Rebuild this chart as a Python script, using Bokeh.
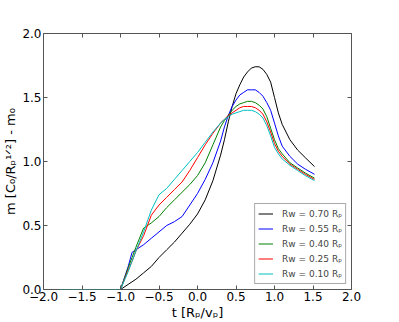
from bokeh.plotting import figure
from bokeh.models import LinearAxis, FixedTicker, Range1d, Legend, LegendItem, CustomJSTickFormatter
from bokeh.embed import file_html
from bokeh.resources import INLINE

t = [-1.8, -1.0, -0.9, -0.85, -0.8, -0.7, -0.6, -0.5, -0.4, -0.3, -0.2, -0.1, 0.0,
     0.1, 0.2, 0.3, 0.35, 0.4, 0.45, 0.5, 0.55, 0.6, 0.65, 0.7, 0.75, 0.8, 0.85,
     0.9, 0.95, 1.0, 1.05, 1.1, 1.2, 1.3, 1.4, 1.52]

m_070 = [0, 0, 0.04, 0.06, 0.08, 0.13, 0.18, 0.25, 0.31, 0.37, 0.44, 0.51, 0.59,
         0.70, 0.85, 1.05, 1.17, 1.31, 1.43, 1.53, 1.60, 1.66, 1.70, 1.73, 1.74, 1.74, 1.72,
         1.68, 1.62, 1.50, 1.38, 1.29, 1.17, 1.09, 1.03, 0.96]
m_055 = [0, 0, 0.18, 0.29, 0.31, 0.35, 0.40, 0.45, 0.50, 0.53, 0.57, 0.66, 0.75,
         0.86, 0.99, 1.16, 1.27, 1.36, 1.43, 1.48, 1.52, 1.54, 1.56, 1.56, 1.56, 1.54, 1.51,
         1.46, 1.40, 1.30, 1.20, 1.12, 1.04, 0.98, 0.94, 0.90]
m_040 = [0, 0, 0.17, 0.25, 0.33, 0.48, 0.52, 0.57, 0.64, 0.70, 0.76, 0.82, 0.89,
         0.99, 1.13, 1.27, 1.32, 1.36, 1.40, 1.43, 1.45, 1.46, 1.47, 1.47, 1.46, 1.44, 1.41,
         1.35, 1.26, 1.17, 1.10, 1.06, 0.99, 0.95, 0.91, 0.87]
m_025 = [0, 0, 0.15, 0.22, 0.30, 0.42, 0.58, 0.66, 0.72, 0.78, 0.84, 0.93, 1.03,
         1.13, 1.22, 1.30, 1.33, 1.36, 1.38, 1.40, 1.42, 1.43, 1.43, 1.43, 1.42, 1.40, 1.37,
         1.31, 1.23, 1.14, 1.08, 1.04, 0.98, 0.94, 0.90, 0.86]
m_010 = [0, 0, 0.14, 0.22, 0.30, 0.45, 0.62, 0.74, 0.79, 0.86, 0.93, 1.00, 1.07,
         1.15, 1.23, 1.30, 1.33, 1.35, 1.37, 1.38, 1.39, 1.40, 1.40, 1.40, 1.39, 1.37, 1.34,
         1.28, 1.20, 1.11, 1.06, 1.02, 0.97, 0.93, 0.89, 0.85]

series = [m_070, m_055, m_040, m_025, m_010]
labels = ["Rw = 0.70 Rₚ", "Rw = 0.55 Rₚ", "Rw = 0.40 Rₚ", "Rw = 0.25 Rₚ", "Rw = 0.10 Rₚ"]
colors = ["#000000", "#0000ff", "#008000", "#ff0000", "#00bfbf"]

x_ticks = [-2.0, -1.5, -1.0, -0.5, 0.0, 0.5, 1.0, 1.5, 2.0]
y_ticks = [0.0, 0.5, 1.0, 1.5, 2.0]

FONT = "DejaVu Sans"

p = figure(width=383, height=322, output_backend="svg", toolbar_location=None,
           x_range=Range1d(-2, 2), y_range=Range1d(0, 2),
           min_border_left=41, min_border_right=32, min_border_top=33, min_border_bottom=32)
p.grid.visible = False
p.outline_line_color = "#555555"
p.outline_line_width = 1
p.background_fill_color = "white"
p.border_fill_color = "white"

items = []
for ys, lab, c in zip(series, labels, colors):
    r = p.line(t, ys, line_color=c, line_width=1)
    items.append(LegendItem(label=lab, renderers=[r]))

num_fmt = CustomJSTickFormatter(code="return tick.toFixed(1).replace('-', '\u2212');")
blank_fmt = CustomJSTickFormatter(code="return '';")

def style(ax, ticks, show_labels):
    ax.ticker = FixedTicker(ticks=ticks)
    ax.axis_line_color = None
    ax.major_tick_in = 4
    ax.major_tick_out = 0
    ax.major_tick_line_color = "#555555"
    ax.minor_tick_line_color = None
    ax.major_label_text_font = FONT
    ax.major_label_text_color = "black"
    ax.major_label_text_font_size = "12px"
    if show_labels:
        ax.formatter = num_fmt
        ax.major_label_standoff = 2
    else:
        ax.formatter = blank_fmt
        ax.major_label_standoff = 0

style(p.xaxis[0], x_ticks, True)
style(p.yaxis[0], y_ticks, True)
p.xaxis[0].axis_label = "t [Rₚ/vₚ]"
p.yaxis[0].axis_label = "m [C₀/Rₚ¹ᐟ²] - m₀"
for ax in (p.xaxis[0], p.yaxis[0]):
    ax.axis_label_text_font = FONT
    ax.axis_label_text_font_style = "normal"
    ax.axis_label_text_color = "black"
    ax.axis_label_text_font_size = "13px"
    ax.axis_label_standoff = 1

top = LinearAxis()
right = LinearAxis()
style(top, x_ticks, False)
style(right, y_ticks, False)
p.add_layout(top, "above")
p.add_layout(right, "right")

legend = Legend(items=items, location="bottom_right")
legend.margin = 5
legend.padding = 3
legend.spacing = 2
legend.glyph_width = 15
legend.glyph_height = 13
legend.label_height = 13
legend.label_standoff = 9
legend.label_text_font = FONT
legend.label_text_font_size = "9px"
legend.border_line_color = "#555555"
legend.border_line_width = 1
legend.background_fill_alpha = 1
p.add_layout(legend, "center")

open("out.html", "w").write(file_html(p, INLINE))
